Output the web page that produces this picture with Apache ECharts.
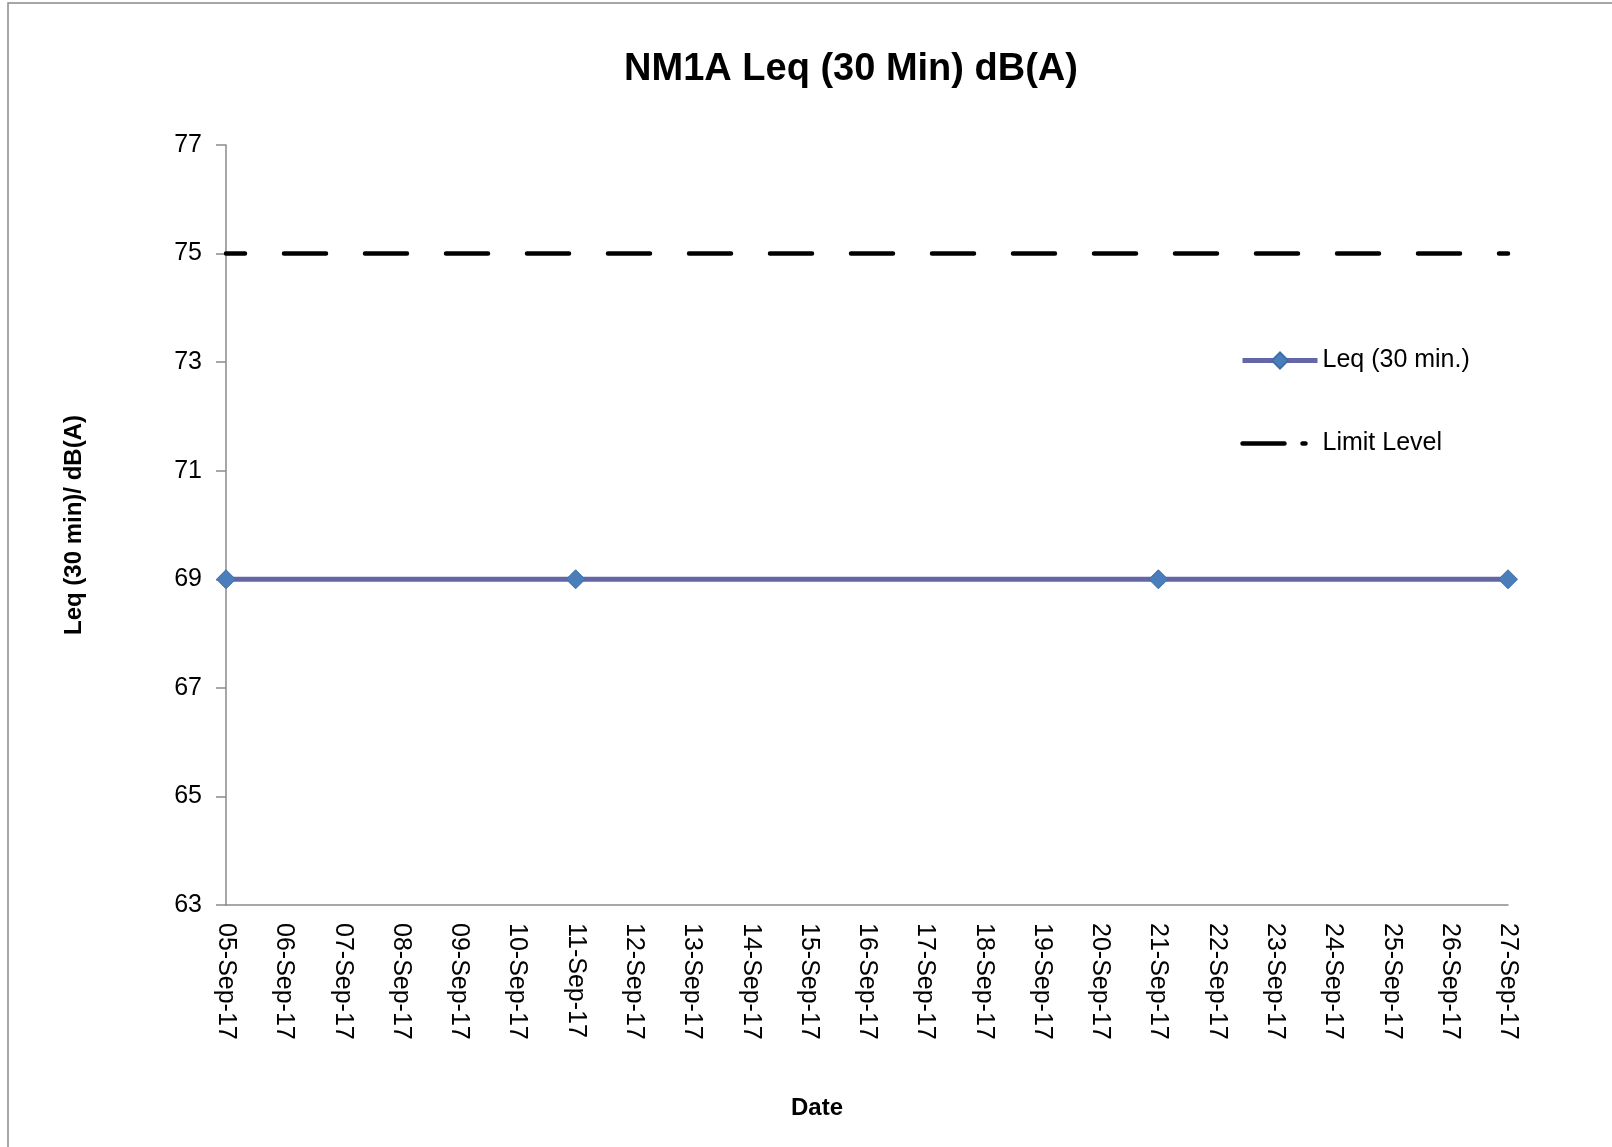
<!DOCTYPE html>
<html>
<head>
<meta charset="utf-8">
<script src="https://cdn.jsdelivr.net/npm/echarts@6/dist/echarts.min.js"></script>
<style>
html,body{margin:0;padding:0;background:#fff;}
#chart{width:1612px;height:1147px;}
</style>
</head>
<body>
<div id="chart"></div>
<script>
const categories = ['05-Sep-17','06-Sep-17','07-Sep-17','08-Sep-17','09-Sep-17','10-Sep-17','11-Sep-17','12-Sep-17','13-Sep-17','14-Sep-17','15-Sep-17','16-Sep-17','17-Sep-17','18-Sep-17','19-Sep-17','20-Sep-17','21-Sep-17','22-Sep-17','23-Sep-17','24-Sep-17','25-Sep-17','26-Sep-17','27-Sep-17'];
const leqValues = [69,null,null,null,null,null,69,null,null,null,null,null,null,null,null,null,69,null,null,null,null,null,69];
const limitValues = [75,75,75,75,75,75,75,75,75,75,75,75,75,75,75,75,75,75,75,75,75,75,75];
const yTicks = {min:63, max:77, interval:2};

const chart = echarts.init(document.getElementById('chart'));
const FONT = '"Liberation Sans", Arial, sans-serif';
chart.setOption({
  backgroundColor:'#ffffff',
  animation:false,
  title:{
    text:'NM1A Leq (30 Min) dB(A)',
    left:846, top:46, textAlign:'center',
    textStyle:{fontFamily:FONT, fontWeight:'bold', fontSize:38, color:'#000'}
  },
  graphic:[
    {type:'rect', shape:{x:8, y:3, width:1800, height:1400}, style:{fill:'none', stroke:'#8a8a8a', lineWidth:1.5}, silent:true},
    {type:'text', left:791, top:1096, style:{text:'Date', font:'bold 24px '+FONT, fill:'#000'}}
  ],
  legend:{
    orient:'vertical', left:1235, top:343,
    itemWidth:75, itemHeight:20, itemGap:58,
    textStyle:{fontFamily:FONT, fontSize:25, color:'#000'},
    data:[
      {name:'Leq (30 min.)', lineStyle:{width:5}},
      {name:'Limit Level', lineStyle:{width:4.5, type:[42,18,3,60], dashOffset:0}, itemStyle:{opacity:0}}
    ]
  },
  grid:{left:226, right:104, top:145, bottom:242, containLabel:false},
  xAxis:{
    type:'category', data:categories, boundaryGap:false,
    axisLine:{lineStyle:{color:'#8a8a8a', width:1.5}},
    axisTick:{show:false},
    axisLabel:{rotate:-90, interval:0, margin:18, fontFamily:FONT, fontSize:25, color:'#000'}
  },
  yAxis:{
    type:'value', min:yTicks.min, max:yTicks.max, interval:yTicks.interval,
    name:'Leq (30 min)/ dB(A)', nameLocation:'middle', nameGap:140, nameRotate:90,
    nameTextStyle:{fontFamily:FONT, fontWeight:'bold', fontSize:24, color:'#000'},
    axisLine:{show:true, lineStyle:{color:'#8a8a8a', width:1.5}},
    axisTick:{show:true, length:10, lineStyle:{color:'#8a8a8a', width:1.5}},
    axisLabel:{margin:24, fontFamily:FONT, fontSize:25, color:'#000'},
    splitLine:{show:false}
  },
  series:[
    {
      name:'Leq (30 min.)', type:'line', data:leqValues, connectNulls:true,
      symbol:'diamond', symbolSize:19, showAllSymbol:true,
      lineStyle:{color:'#6466A6', width:5},
      itemStyle:{color:'#4A7EBB', borderColor:'#3E6DAA', borderWidth:1},
      z:3
    },
    {
      name:'Limit Level', type:'line', data:limitValues, symbol:'none',
      lineStyle:{color:'#000', width:4.5, type:[42,39], dashOffset:23, cap:'round'},
      itemStyle:{color:'#000'},
      z:2
    }
  ]
});
</script>
</body>
</html>
